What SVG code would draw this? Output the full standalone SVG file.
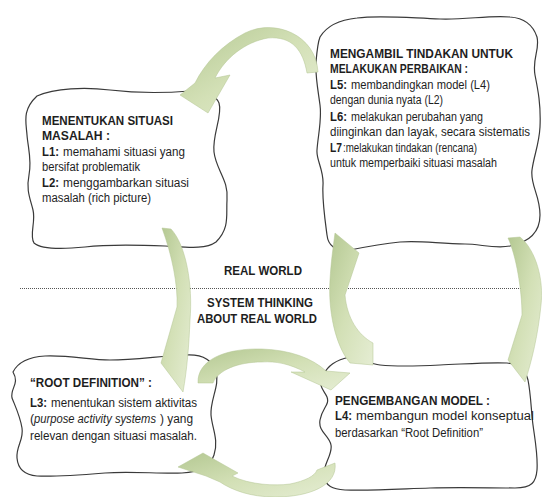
<svg xmlns="http://www.w3.org/2000/svg" width="542" height="497" viewBox="0 0 542 497">
<style>
.box{fill:#fff;stroke:#3a3a3a;stroke-width:1.2}
.t{font-family:"Liberation Sans",Arial,sans-serif;font-size:12.5px;fill:#1e1e1e}
.b{font-weight:bold}
.i{font-style:italic}
.arr{fill:url(#g);stroke:#b3c593;stroke-width:0.5}
</style>
<defs>
<linearGradient id="g" x1="0" y1="0" x2="1" y2="1">
<stop offset="0" stop-color="#b4c892"/>
<stop offset="0.5" stop-color="#d3e0b6"/>
<stop offset="1" stop-color="#e5edd3"/>
</linearGradient>
</defs>

<g id="node-situasi">
<path class="box" d="M37,96 C55,88 85,87 110,90 C135,93 165,93 190,91 C205,90 215,94 219,103 C223,115 212,135 214,152 C216,170 229,180 227,200 C226,215 230,228 216,242 C205,250 185,247 165,246 C140,245 110,244 85,247 C65,249 42,250 34,243 C29,235 36,222 33,210 C30,198 26,190 29,175 C32,160 28,148 27,135 C26,122 22,110 37,96 Z"/>
<text class="t b" x="42" y="125" textLength="131" lengthAdjust="spacingAndGlyphs">MENENTUKAN SITUASI</text>
<text class="t b" x="42" y="140" textLength="68" lengthAdjust="spacingAndGlyphs">MASALAH  :</text>
<text class="t" y="156"><tspan class="b" x="42" textLength="17" lengthAdjust="spacingAndGlyphs">L1:</tspan><tspan x="63" textLength="122" lengthAdjust="spacingAndGlyphs">memahami situasi yang</tspan></text>
<text class="t" x="42" y="171" textLength="98" lengthAdjust="spacingAndGlyphs">bersifat problematik</text>
<text class="t" y="187"><tspan class="b" x="42" textLength="17" lengthAdjust="spacingAndGlyphs">L2:</tspan><tspan x="63" textLength="126" lengthAdjust="spacingAndGlyphs">menggambarkan situasi</tspan></text>
<text class="t" x="42" y="202" textLength="109" lengthAdjust="spacingAndGlyphs">masalah (rich picture)</text>
</g>

<g id="node-tindakan">
<path class="box" d="M320,37 C326,27 338,20 357,18 C380,15 410,18 440,19 C465,20 490,15 510,17 C525,18 533,25 537,37 C540,50 532,58 535,75 C538,90 541,105 540,127 C539,145 534,155 532,170 C530,185 540,195 540,215 C540,232 530,242 510,246 C495,249 480,244 465,244 C440,244 420,240 400,242 C380,244 365,247 350,250 C335,252 328,245 327,235 C325,220 322,200 323,185 C324,170 316,160 317,150 C318,135 322,120 320,105 C318,90 315,75 316,62 C317,50 318,42 320,37 Z"/>
<text class="t b" x="330" y="58" textLength="183" lengthAdjust="spacingAndGlyphs">MENGAMBIL TINDAKAN UNTUK</text>
<text class="t b" x="330" y="73" textLength="138" lengthAdjust="spacingAndGlyphs">MELAKUKAN PERBAIKAN  :</text>
<text class="t" y="89"><tspan class="b" x="330" textLength="17" lengthAdjust="spacingAndGlyphs">L5:</tspan><tspan x="351" textLength="139" lengthAdjust="spacingAndGlyphs">membandingkan model (L4)</tspan></text>
<text class="t" x="330" y="104" textLength="113" lengthAdjust="spacingAndGlyphs">dengan dunia nyata (L2)</text>
<text class="t" y="121"><tspan class="b" x="330" textLength="17" lengthAdjust="spacingAndGlyphs">L6:</tspan><tspan x="351" textLength="132" lengthAdjust="spacingAndGlyphs">melakukan perubahan yang</tspan></text>
<text class="t" x="330" y="136" textLength="200" lengthAdjust="spacingAndGlyphs">diinginkan dan layak, secara sistematis</text>
<text class="t" y="152"><tspan class="b" x="330" textLength="12" lengthAdjust="spacingAndGlyphs">L7</tspan><tspan x="343" textLength="134" lengthAdjust="spacingAndGlyphs">:melakukan tindakan (rencana)</tspan></text>
<text class="t" x="330" y="167" textLength="167" lengthAdjust="spacingAndGlyphs">untuk memperbaiki situasi masalah</text>
</g>

<g id="node-root">
<path class="box" d="M13,372 C18,362 28,357 45,356 C70,355 90,360 110,360 C135,360 160,356 185,355 C200,354 212,358 216,372 C220,385 210,400 211,415 C212,428 219,440 214,455 C210,467 200,472 182,473 C160,474 130,471 105,473 C80,475 55,477 37,476 C25,475 18,470 17,458 C16,446 24,440 22,428 C20,416 16,408 12,398 C10,388 20,384 13,372 Z"/>
<text class="t b" x="30" y="387" textLength="122" lengthAdjust="spacingAndGlyphs">“ROOT DEFINITION” :</text>
<text class="t" y="407"><tspan class="b" x="30" textLength="17" lengthAdjust="spacingAndGlyphs">L3:</tspan><tspan x="51" textLength="146" lengthAdjust="spacingAndGlyphs">menentukan sistem aktivitas</tspan></text>
<text class="t" y="423"><tspan x="30">(</tspan><tspan class="i" x="34" textLength="122" lengthAdjust="spacingAndGlyphs">purpose activity systems</tspan><tspan x="160" textLength="33" lengthAdjust="spacingAndGlyphs">) yang</tspan></text>
<text class="t" x="30" y="440" textLength="167" lengthAdjust="spacingAndGlyphs">relevan dengan situasi masalah.</text>
</g>

<g id="node-model">
<path class="box" d="M323,375 C328,366 335,360 350,357 C362,356 368,364 380,365 C400,367 420,366 440,365 C465,364 490,362 507,363 C518,364 525,368 528,380 C531,395 531,410 533,425 C535,440 538,455 537,470 C536,482 532,488 515,488 C490,488 460,487 430,488 C400,489 370,491 345,490 C332,489 326,486 324,477 C322,465 333,455 331,445 C329,435 318,432 320,420 C322,408 330,405 327,397 C324,390 317,386 323,375 Z"/>
<text class="t b" x="335" y="405" textLength="155" lengthAdjust="spacingAndGlyphs">PENGEMBANGAN  MODEL :</text>
<text class="t" y="420"><tspan class="b" x="335" textLength="17" lengthAdjust="spacingAndGlyphs">L4:</tspan><tspan x="356" textLength="178" lengthAdjust="spacingAndGlyphs">membangun model konseptual</tspan></text>
<text class="t" x="335" y="437" textLength="148" lengthAdjust="spacingAndGlyphs">berdasarkan “Root Definition”</text>
</g>

<g id="divider">
<line x1="20" y1="288.5" x2="542" y2="288.5" stroke="#555" stroke-width="1" stroke-dasharray="1,1"/>
<text class="t b" x="224" y="275" textLength="78" lengthAdjust="spacingAndGlyphs">REAL WORLD</text>
<text class="t b" x="207" y="307" textLength="106" lengthAdjust="spacingAndGlyphs">SYSTEM THINKING</text>
<text class="t b" x="197" y="323" textLength="120" lengthAdjust="spacingAndGlyphs">ABOUT REAL WORLD</text>
</g>

<g id="connectors">
<path class="arr" d="M318,72 C316,35 275,18 245,33 C222,45 205,63 195,83 L180,95 L208,113 L230,75 L215,78 C225,58 245,42 268,38 C292,36 303,50 307,73 Z"/>
<path class="arr" d="M162,228 L171,229 C186,245 193,285 190,320 C189,345 187,370 183,392 L161,363 L177,307 C178,285 172,255 162,228 Z"/>
<path class="arr" d="M198,383 C197,360 225,348 262,349 C290,350 312,358 326,371 L350,373 L331,390 L291,372 L305,372 C290,364 276,361 262,362 C238,362 218,370 213,383 Z"/>
<path class="arr" d="M335,463 C338,485 310,497 275,497 C250,497 232,490 220,482 L206,476 L178,467 L203,453 L238,473 L232,476 C250,485 275,486 290,484 C305,481 315,476 317,470 Z"/>
<path class="arr" d="M350,363 C335,345 328,310 330,280 C331,262 333,248 335,233 L359,253 L345,295 C347,318 358,335 373,343 L373,365 Z"/>
<path class="arr" d="M508,238 L520,237 C536,250 544,280 541,305 C538,335 532,360 525,382 L508,360 L522,315 C522,290 516,255 508,238 Z"/>
</g>
</svg>
